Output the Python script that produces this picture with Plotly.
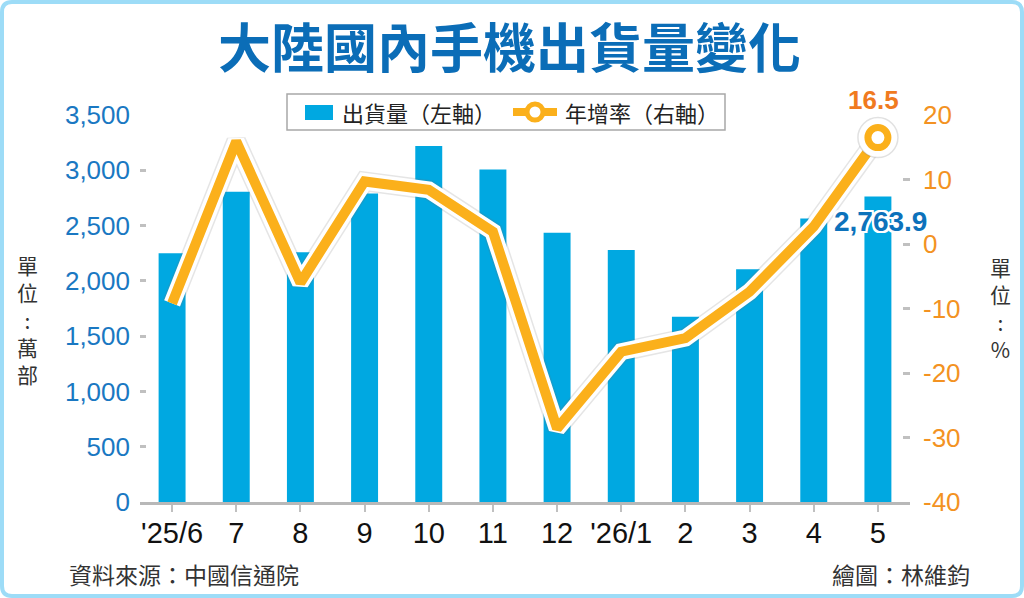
import plotly.graph_objects as go

# ---------------- data ----------------
categories = ["'25/6", "7", "8", "9", "10", "11", "12", "'26/1", "2", "3", "4", "5"]
shipments = [2249, 2806, 2258, 2791, 3219, 3008, 2435, 2278, 1676, 2104, 2565, 2763.9]   # 萬部 (left axis)
growth = [-9.2, 15.9, -6.0, 9.7, 8.4, 1.9, -28.6, -16.7, -14.6, -7.4, 2.7, 16.5]        # % (right axis)
left_ticks = [0, 500, 1000, 1500, 2000, 2500, 3000, 3500]
right_ticks = [-40, -30, -20, -10, 0, 10, 20]

title_text = "大陸國內手機出貨量變化"
bar_name = "出貨量（左軸）"
line_name = "年增率（右軸）"
source_text = "資料來源：中國信通院"
credit_text = "繪圖：林維鈞"

# ---------------- styling ----------------
W, H = 1024, 598
L, R, T, B = 140, 114, 115, 96
PW, PH = W - L - R, H - T - B

BAR_C = "#00a8e1"
LINE_C = "#fbb01b"
BLUE_T = "#1a78c2"
ORANGE_T = "#f39222"
CJK = "Noto Sans CJK TC"
NUM = "Liberation Sans"


def px(x):
    return (x - L) / PW


def py(y):
    return (H - B - y) / PH


fig = go.Figure()

fig.add_trace(go.Bar(
    x=categories, y=shipments, name=bar_name, marker=dict(color=BAR_C, line=dict(width=0)),
    width=0.42, yaxis="y", hoverinfo="skip", showlegend=False,
))

# line with soft shadow + white outline
fig.add_trace(go.Scatter(
    x=categories, y=growth, yaxis="y2", mode="lines", showlegend=False, hoverinfo="skip",
    line=dict(color="rgba(110,110,110,0.18)", width=20),
))
fig.add_trace(go.Scatter(
    x=categories, y=growth, yaxis="y2", mode="lines", showlegend=False, hoverinfo="skip",
    line=dict(color="white", width=17),
))
fig.add_trace(go.Scatter(
    x=categories, y=growth, yaxis="y2", mode="lines", name=line_name, showlegend=False, hoverinfo="skip",
    line=dict(color=LINE_C, width=10),
))
# highlighted last point
fig.add_trace(go.Scatter(
    x=categories[-1:], y=growth[-1:], yaxis="y2", mode="markers", showlegend=False, hoverinfo="skip",
    marker=dict(size=40, color="white", line=dict(color="rgba(120,120,120,0.22)", width=1.5)),
))
fig.add_trace(go.Scatter(
    x=categories[-1:], y=growth[-1:], yaxis="y2", mode="markers", showlegend=False, hoverinfo="skip",
    marker=dict(size=20, color="white", line=dict(color=LINE_C, width=7)),
))

last = len(categories) - 1
annotations = [
    dict(text=title_text, x=px(509), y=py(45), xref="paper", yref="paper", showarrow=False,
         font=dict(family=CJK, size=53, color="#0b6db7", weight="bold"), xanchor="center", yanchor="middle"),
    dict(text="單<br>位<br>:<br>萬<br>部", x=px(27), y=py(319), xref="paper", yref="paper", showarrow=False,
         font=dict(family=CJK, size=21, color="#333333"), xanchor="center", yanchor="middle"),
    dict(text="單<br>位<br>:<br>%", x=px(1000), y=py(308), xref="paper", yref="paper", showarrow=False,
         font=dict(family=CJK, size=21, color="#333333"), xanchor="center", yanchor="middle"),
    dict(text=source_text, x=px(67), y=py(574), xref="paper", yref="paper", showarrow=False,
         font=dict(family=CJK, size=23, color="#333333"), xanchor="left", yanchor="middle"),
    dict(text=credit_text, x=px(972), y=py(574), xref="paper", yref="paper", showarrow=False,
         font=dict(family=CJK, size=23, color="#333333"), xanchor="right", yanchor="middle"),
    dict(text=f"{growth[-1]}", x=last, y=growth[-1], xref="x", yref="y2", showarrow=False,
         yshift=38, xshift=-4, font=dict(family=NUM, size=26, color="#f07a1f", weight="bold"),
         xanchor="center", yanchor="middle"),
    dict(text=f"{shipments[-1]:,.1f}", x=last, y=shipments[-1], xref="x", yref="y", showarrow=False,
         yshift=-25, xshift=3,
         font=dict(family=NUM, size=28, color="#0d72bb", weight="bold",
                   shadow="2px 0 0 white, -2px 0 0 white, 0 2px 0 white, 0 -2px 0 white, 2px 2px 0 white, -2px -2px 0 white, 2px -2px 0 white, -2px 2px 0 white"),
         xanchor="center", yanchor="middle"),
    # legend texts
    dict(text=bar_name, x=px(340), y=py(112), xref="paper", yref="paper", showarrow=False,
         font=dict(family=CJK, size=22, color="#222222"), xanchor="left", yanchor="middle"),
    dict(text=line_name, x=px(563), y=py(112), xref="paper", yref="paper", showarrow=False,
         font=dict(family=CJK, size=22, color="#222222"), xanchor="left", yanchor="middle"),
]

# rounded light-blue frame
x0, y0, x1, y1, r = 2, 2, W - 2, H - 2, 10
frame_path = (
    f"M {px(x0 + r)},{py(y0)} L {px(x1 - r)},{py(y0)} Q {px(x1)},{py(y0)} {px(x1)},{py(y0 + r)} "
    f"L {px(x1)},{py(y1 - r)} Q {px(x1)},{py(y1)} {px(x1 - r)},{py(y1)} "
    f"L {px(x0 + r)},{py(y1)} Q {px(x0)},{py(y1)} {px(x0)},{py(y1 - r)} "
    f"L {px(x0)},{py(y0 + r)} Q {px(x0)},{py(y0)} {px(x0 + r)},{py(y0)} Z"
)
shapes = [
    dict(type="path", path=frame_path, xref="paper", yref="paper",
         line=dict(color="#9ddcf7", width=4), layer="above"),
    # legend box
    dict(type="rect", xref="paper", yref="paper", x0=px(287), x1=px(725), y0=py(94), y1=py(130),
         line=dict(color="#a8a8a8", width=1.5), fillcolor="white", layer="above"),
    dict(type="rect", xref="paper", yref="paper", x0=px(305), x1=px(333), y0=py(105), y1=py(120),
         line=dict(width=0), fillcolor=BAR_C, layer="above"),
    dict(type="line", xref="paper", yref="paper", x0=px(513), x1=px(557), y0=py(112), y1=py(112),
         line=dict(color=LINE_C, width=8), layer="above"),
    dict(type="circle", xref="paper", yref="paper", x0=px(527), x1=px(543), y0=py(104), y1=py(120),
         line=dict(color=LINE_C, width=5), fillcolor="white", layer="above"),
]

fig.update_layout(
    width=W, height=H,
    margin=dict(l=L, r=R, t=T, b=B, autoexpand=False),
    paper_bgcolor="white", plot_bgcolor="white",
    showlegend=False,
    xaxis=dict(type="category", range=[-0.5, 11.5], showgrid=False, zeroline=False,
               showline=True, linecolor="#b8b8b8", linewidth=3,
               ticks="outside", ticklen=7, tickwidth=2, tickcolor="#c0c0c0", ticklabelstandoff=-4,
               tickfont=dict(family=NUM, size=29, color="#111111"), fixedrange=True),
    yaxis=dict(range=[0, 3500], tickvals=left_ticks, ticktext=[f"{v:,}" for v in left_ticks],
               showgrid=False, zeroline=False, showline=False,
               ticks="inside", ticklen=6, tickwidth=3, tickcolor="#c0c0c0", ticklabelstandoff=9,
               tickfont=dict(family=NUM, size=26, color=BLUE_T)),
    yaxis2=dict(range=[-40, 20], tickvals=right_ticks, ticktext=[str(v) for v in right_ticks],
                overlaying="y", side="right", showgrid=False, zeroline=False, showline=False,
                ticks="inside", ticklen=7, tickwidth=3, tickcolor="#c0c0c0", ticklabelstandoff=12,
                tickfont=dict(family=NUM, size=26, color=ORANGE_T)),
    annotations=annotations,
    shapes=shapes,
)

fig.write_html("out.html")
